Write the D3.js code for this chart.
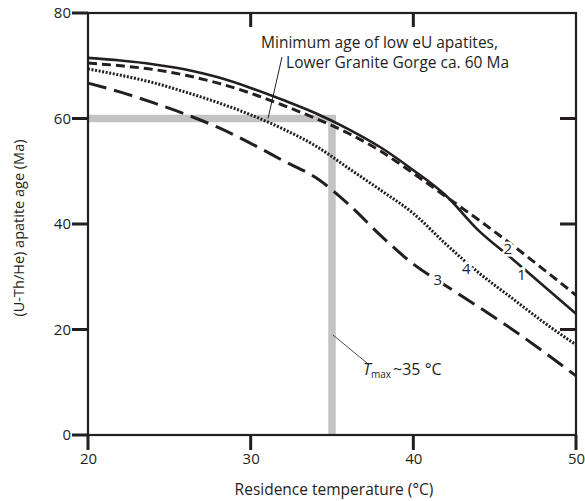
<!DOCTYPE html>
<html>
  <head>
    <meta charset="utf-8">
    <style>
      body { margin: 0; background: #fff; }
      svg text { font-family: "Open Sans", sans-serif; fill: #231f20; }
    </style>
  </head>
  <body>
    <div class='chart-container'></div>
    <script src="https://d3js.org/d3.v7.min.js"></script>
    <script>
// temperatures (°C) shared by every curve
var temps = [20, 22, 24, 26, 28, 30, 32, 34, 36, 38, 40, 42, 44, 46, 48, 50];

// (U-Th/He) ages (Ma) per model curve
var curve1 = [71.5, 71.0, 70.3, 69.3, 67.8, 65.8, 63.5, 61.0, 58.0, 54.5, 50.2, 45.4, 38.8, 33.6, 28.3, 23.0];
var curve2 = [70.5, 70.0, 69.3, 68.2, 66.7, 64.8, 62.5, 60.0, 57.2, 53.8, 49.6, 45.2, 40.8, 36.2, 31.4, 26.5];
var curve3 = [66.7, 65.0, 63.0, 60.8, 58.3, 55.3, 52.0, 48.8, 43.8, 37.8, 32.4, 28.3, 24.3, 20.2, 15.8, 11.2];
var curve4 = [69.4, 68.2, 66.8, 65.0, 63.0, 60.7, 58.0, 54.8, 50.6, 46.4, 42.0, 36.2, 30.8, 26.1, 21.4, 17.1];

var curveNames = ['1', '2', '3', '4'];
var labelPos = [[46.65, 30.5], [45.8, 35.4], [41.5, 29.4], [43.25, 31.6]];

var minAge = 60;   // Lower Granite Gorge minimum age
var tMax = 35;     // max residence temperature

var xTicks = [20, 30, 40, 50];
var yTicks = [0, 20, 40, 60, 80];
var topTicks = [30, 40];
var rightTicks = [20, 40, 60];

var margin = {top: 13, right: 9, bottom: 66, left: 88};
var width = 585 - margin.left - margin.right;
var height = 501 - margin.top - margin.bottom;
var ink = '#231f20';
var grey = '#c3c3c3';

var x = d3.scaleLinear().domain([20, 50]).range([0, width]);
var y = d3.scaleLinear().domain([0, 80]).range([height, 0]);

var svg = d3.select('.chart-container').append('svg')
    .attr('width', 585)
    .attr('height', 501)
  .append('g')
    .attr('transform', 'translate(' + margin.left + ',' + margin.top + ')');

// grey reference bands
svg.append('path')
    .attr('d', 'M' + x(20) + ',' + y(minAge) + 'H' + (x(tMax) + 4) + 'M' + x(tMax) + ',' + (y(minAge) - 3.5) + 'V' + y(0))
    .attr('fill', 'none')
    .attr('stroke', grey)
    .attr('stroke-width', 7.5);

// curves
var line = d3.line()
    .curve(d3.curveMonotoneX)
    .x((d, i) => x(temps[i]))
    .y(d => y(d));

var styles = [
  {data: curve1, dash: null, w: 2.6},
  {data: curve2, dash: '9,5', w: 3},
  {data: curve3, dash: '19,8', w: 3},
  {data: curve4, dash: '2,1.6', w: 3}
];

svg.append('g')
  .selectAll('path')
  .data(styles)
  .join('path')
    .attr('d', d => line(d.data))
    .attr('fill', 'none')
    .attr('stroke', ink)
    .attr('stroke-width', d => d.w)
    .attr('stroke-dasharray', d => d.dash);

// curve numbers with white halo to break the lines
svg.append('g')
  .selectAll('text')
  .data(curveNames)
  .join('text')
    .attr('x', (d, i) => x(labelPos[i][0]))
    .attr('y', (d, i) => y(labelPos[i][1]))
    .attr('dy', '0.36em')
    .attr('text-anchor', 'middle')
    .attr('font-size', 15)
    .attr('stroke', '#fff')
    .attr('stroke-width', 5)
    .attr('paint-order', 'stroke')
    .text(d => d);

// axis labels from d3 axes
svg.append('g')
    .attr('class', 'axis')
    .attr('transform', 'translate(0,' + height + ')')
    .call(d3.axisBottom(x).tickValues(xTicks).tickSize(15).tickPadding(3));

svg.append('g')
    .attr('class', 'axis')
    .call(d3.axisLeft(y).tickValues(yTicks).tickSize(16).tickPadding(1));

svg.selectAll('.axis .domain').remove();
svg.selectAll('.axis .tick line').remove();
svg.selectAll('.axis .tick text')
    .attr('font-size', 15)
    .attr('font-family', '"Open Sans", sans-serif');

// tick marks
var tickMarks = svg.append('g')
    .attr('fill', 'none')
    .attr('stroke', ink)
    .attr('stroke-width', 3);

tickMarks.selectAll('.xt').data(xTicks).join('path').attr('class', 'xt')
    .attr('d', d => 'M' + x(d) + ',' + height + 'v15');
tickMarks.selectAll('.yt').data(yTicks).join('path').attr('class', 'yt')
    .attr('d', d => 'M0,' + y(d) + 'h-16');
tickMarks.selectAll('.tt').data(topTicks).join('path').attr('class', 'tt')
    .attr('d', d => 'M' + x(d) + ',0v14');
tickMarks.selectAll('.rt').data(rightTicks).join('path').attr('class', 'rt')
    .attr('d', d => 'M' + width + ',' + y(d) + 'h-16');

// frame
svg.append('rect')
    .attr('width', width)
    .attr('height', height)
    .attr('fill', 'none')
    .attr('stroke', ink)
    .attr('stroke-width', 2.2);

// annotation: minimum age
svg.append('path')
    .attr('d', 'M194,44L180,' + y(minAge))
    .attr('stroke', ink)
    .attr('stroke-width', 1)
    .attr('fill', 'none');

var note = svg.append('text')
    .attr('text-anchor', 'end')
    .attr('font-size', 15.5);
note.append('tspan').attr('x', 410).attr('y', 35).text('Minimum age of low eU apatites,');
note.append('tspan').attr('x', 421).attr('y', 55).text('Lower Granite Gorge ca. 60 Ma');

// annotation: Tmax
svg.append('path')
    .attr('d', 'M' + (x(tMax) + 1) + ',322L' + (x(tMax) + 35) + ',350')
    .attr('stroke', ink)
    .attr('stroke-width', 0.8)
    .attr('fill', 'none');

var tm = svg.append('text')
    .attr('x', x(tMax) + 31)
    .attr('y', 362)
    .attr('font-size', 16);
tm.append('tspan').attr('font-style', 'italic').text('T');
tm.append('tspan').attr('dy', 3).attr('font-size', 10).text('max');
tm.append('tspan').attr('dy', -3).attr('dx', 2).text('~35 °C');

// axis titles
svg.append('text')
    .attr('x', 246)
    .attr('y', height + 60)
    .attr('text-anchor', 'middle')
    .attr('font-size', 15.5)
    .text('Residence temperature (°C)');

svg.append('text')
    .attr('transform', 'translate(-64,' + (height / 2 + 4) + ') rotate(-90)')
    .attr('text-anchor', 'middle')
    .attr('font-size', 14.5)
    .text('(U-Th/He) apatite age (Ma)');
    </script>
  </body>
</html>
